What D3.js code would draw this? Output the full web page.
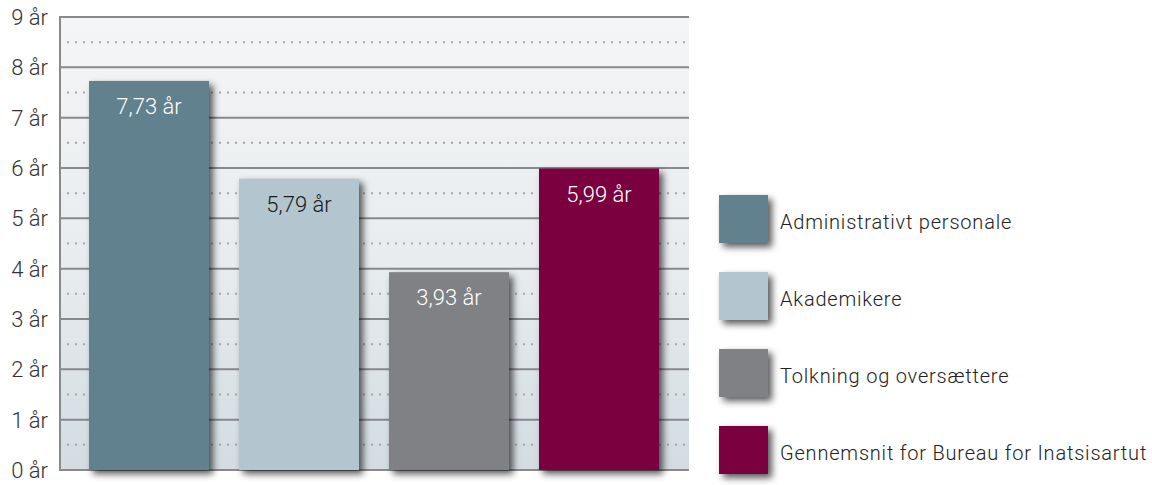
<!DOCTYPE html>
<html>
<head>
<meta charset="utf-8">
<script src="https://cdn.jsdelivr.net/npm/d3@7"></script>
<style>
  body { margin: 0; background: #fff; }
  text { font-family: "Roboto", "Noto Sans", sans-serif; font-weight: 300; }
</style>
</head>
<body>
<div id="chart"></div>
<script>
var width = 1152, height = 485;

var categories = ["Administrativt personale", "Akademikere", "Tolkning og oversættere", "Gennemsnit for Bureau for Inatsisartut"];
var values = [7.73, 5.79, 3.93, 5.99];
var labels = ["7,73 år", "5,79 år", "3,93 år", "5,99 år"];
var colors = ["#62818e", "#b3c5ce", "#808184", "#7a0040"];
var labelColors = ["#ffffff", "#1a1a1a", "#ffffff", "#ffffff"];
var yTicks = [0, 1, 2, 3, 4, 5, 6, 7, 8, 9];
var halfTicks = [0.5, 1.5, 2.5, 3.5, 4.5, 5.5, 6.5, 7.5, 8.5];

var svg = d3.select("#chart")
    .append("svg")
    .attr("width", width)
    .attr("height", height);

var defs = svg.append("defs");

// background gradient of the plot area
var grad = defs.append("linearGradient")
    .attr("id", "bg")
    .attr("x1", 0).attr("y1", 0).attr("x2", 0).attr("y2", 1);
grad.append("stop").attr("offset", "0%").attr("stop-color", "#f4f5f6");
grad.append("stop").attr("offset", "55%").attr("stop-color", "#e8ecee");
grad.append("stop").attr("offset", "100%").attr("stop-color", "#d2dce1");

// drop shadow for bars and legend boxes
var shadow = defs.append("filter")
    .attr("id", "shadow")
    .attr("x", "-20%").attr("y", "-20%")
    .attr("width", "150%").attr("height", "150%");
shadow.append("feDropShadow")
    .attr("dx", 4).attr("dy", 4)
    .attr("stdDeviation", 3.5)
    .attr("flood-color", "#000")
    .attr("flood-opacity", 0.65);

var plotLeft = 60, plotRight = 689;

var x = d3.scaleBand()
    .domain(categories)
    .range([74, 674])
    .paddingInner(0.2)
    .paddingOuter(0.1);

var y = d3.scaleLinear()
    .domain([0, 9])
    .range([470, 17]);

// plot background
svg.append("rect")
    .attr("x", plotLeft)
    .attr("y", y(9))
    .attr("width", plotRight - plotLeft)
    .attr("height", y(0) - y(9))
    .style("fill", "url(#bg)");

// dotted half-year lines
svg.selectAll(".half")
    .data(halfTicks)
    .enter()
    .append("line")
    .attr("class", "half")
    .attr("x1", 67)
    .attr("x2", plotRight)
    .attr("y1", function(d){ return y(d) })
    .attr("y2", function(d){ return y(d) })
    .style("stroke", "#a4a7aa")
    .style("stroke-width", 2)
    .style("stroke-dasharray", "2,6");

// solid year lines
svg.selectAll(".grid")
    .data(yTicks)
    .enter()
    .append("line")
    .attr("class", "grid")
    .attr("x1", plotLeft)
    .attr("x2", plotRight)
    .attr("y1", function(d){ return y(d) })
    .attr("y2", function(d){ return y(d) })
    .style("stroke", "#88898b")
    .style("stroke-width", 2);

// left axis line
svg.append("line")
    .attr("x1", plotLeft).attr("x2", plotLeft)
    .attr("y1", y(9) - 1).attr("y2", y(0) + 1)
    .style("stroke", "#88898b")
    .style("stroke-width", 2);

// y tick labels
svg.selectAll(".ytick")
    .data(yTicks)
    .enter()
    .append("text")
    .attr("class", "ytick")
    .attr("x", 48)
    .attr("y", function(d){ return y(d) })
    .attr("dy", "0.36em")
    .attr("text-anchor", "end")
    .style("font-size", "22px")
    .style("fill", "#333")
    .text(function(d){ return d + " år" });

// bars
svg.selectAll(".bar")
    .data(values)
    .enter()
    .append("rect")
    .attr("class", "bar")
    .attr("x", function(d, i){ return x(categories[i]) })
    .attr("y", function(d){ return y(d) })
    .attr("width", x.bandwidth())
    .attr("height", function(d){ return y(0) - y(d) })
    .style("fill", function(d, i){ return colors[i] })
    .attr("filter", "url(#shadow)");

// value labels
svg.selectAll(".val")
    .data(values)
    .enter()
    .append("text")
    .attr("class", "val")
    .attr("x", function(d, i){ return x(categories[i]) + x.bandwidth() / 2 })
    .attr("y", function(d){ return y(d) + 33 })
    .attr("text-anchor", "middle")
    .style("font-size", "22px")
    .style("fill", function(d, i){ return labelColors[i] })
    .text(function(d, i){ return labels[i] });

// legend
var legend = svg.selectAll(".legend")
    .data(categories)
    .enter()
    .append("g")
    .attr("class", "legend")
    .attr("transform", function(d, i){ return "translate(719," + (195 + i * 77) + ")" });

legend.append("rect")
    .attr("width", 49)
    .attr("height", 48)
    .style("fill", function(d, i){ return colors[i] })
    .attr("filter", "url(#shadow)");

legend.append("text")
    .attr("x", 61)
    .attr("y", 27)
    .attr("dy", "0.35em")
    .style("font-size", "20px")
    .style("letter-spacing", "0.8px")
    .style("fill", "#222")
    .text(function(d){ return d });
</script>
</body>
</html>
